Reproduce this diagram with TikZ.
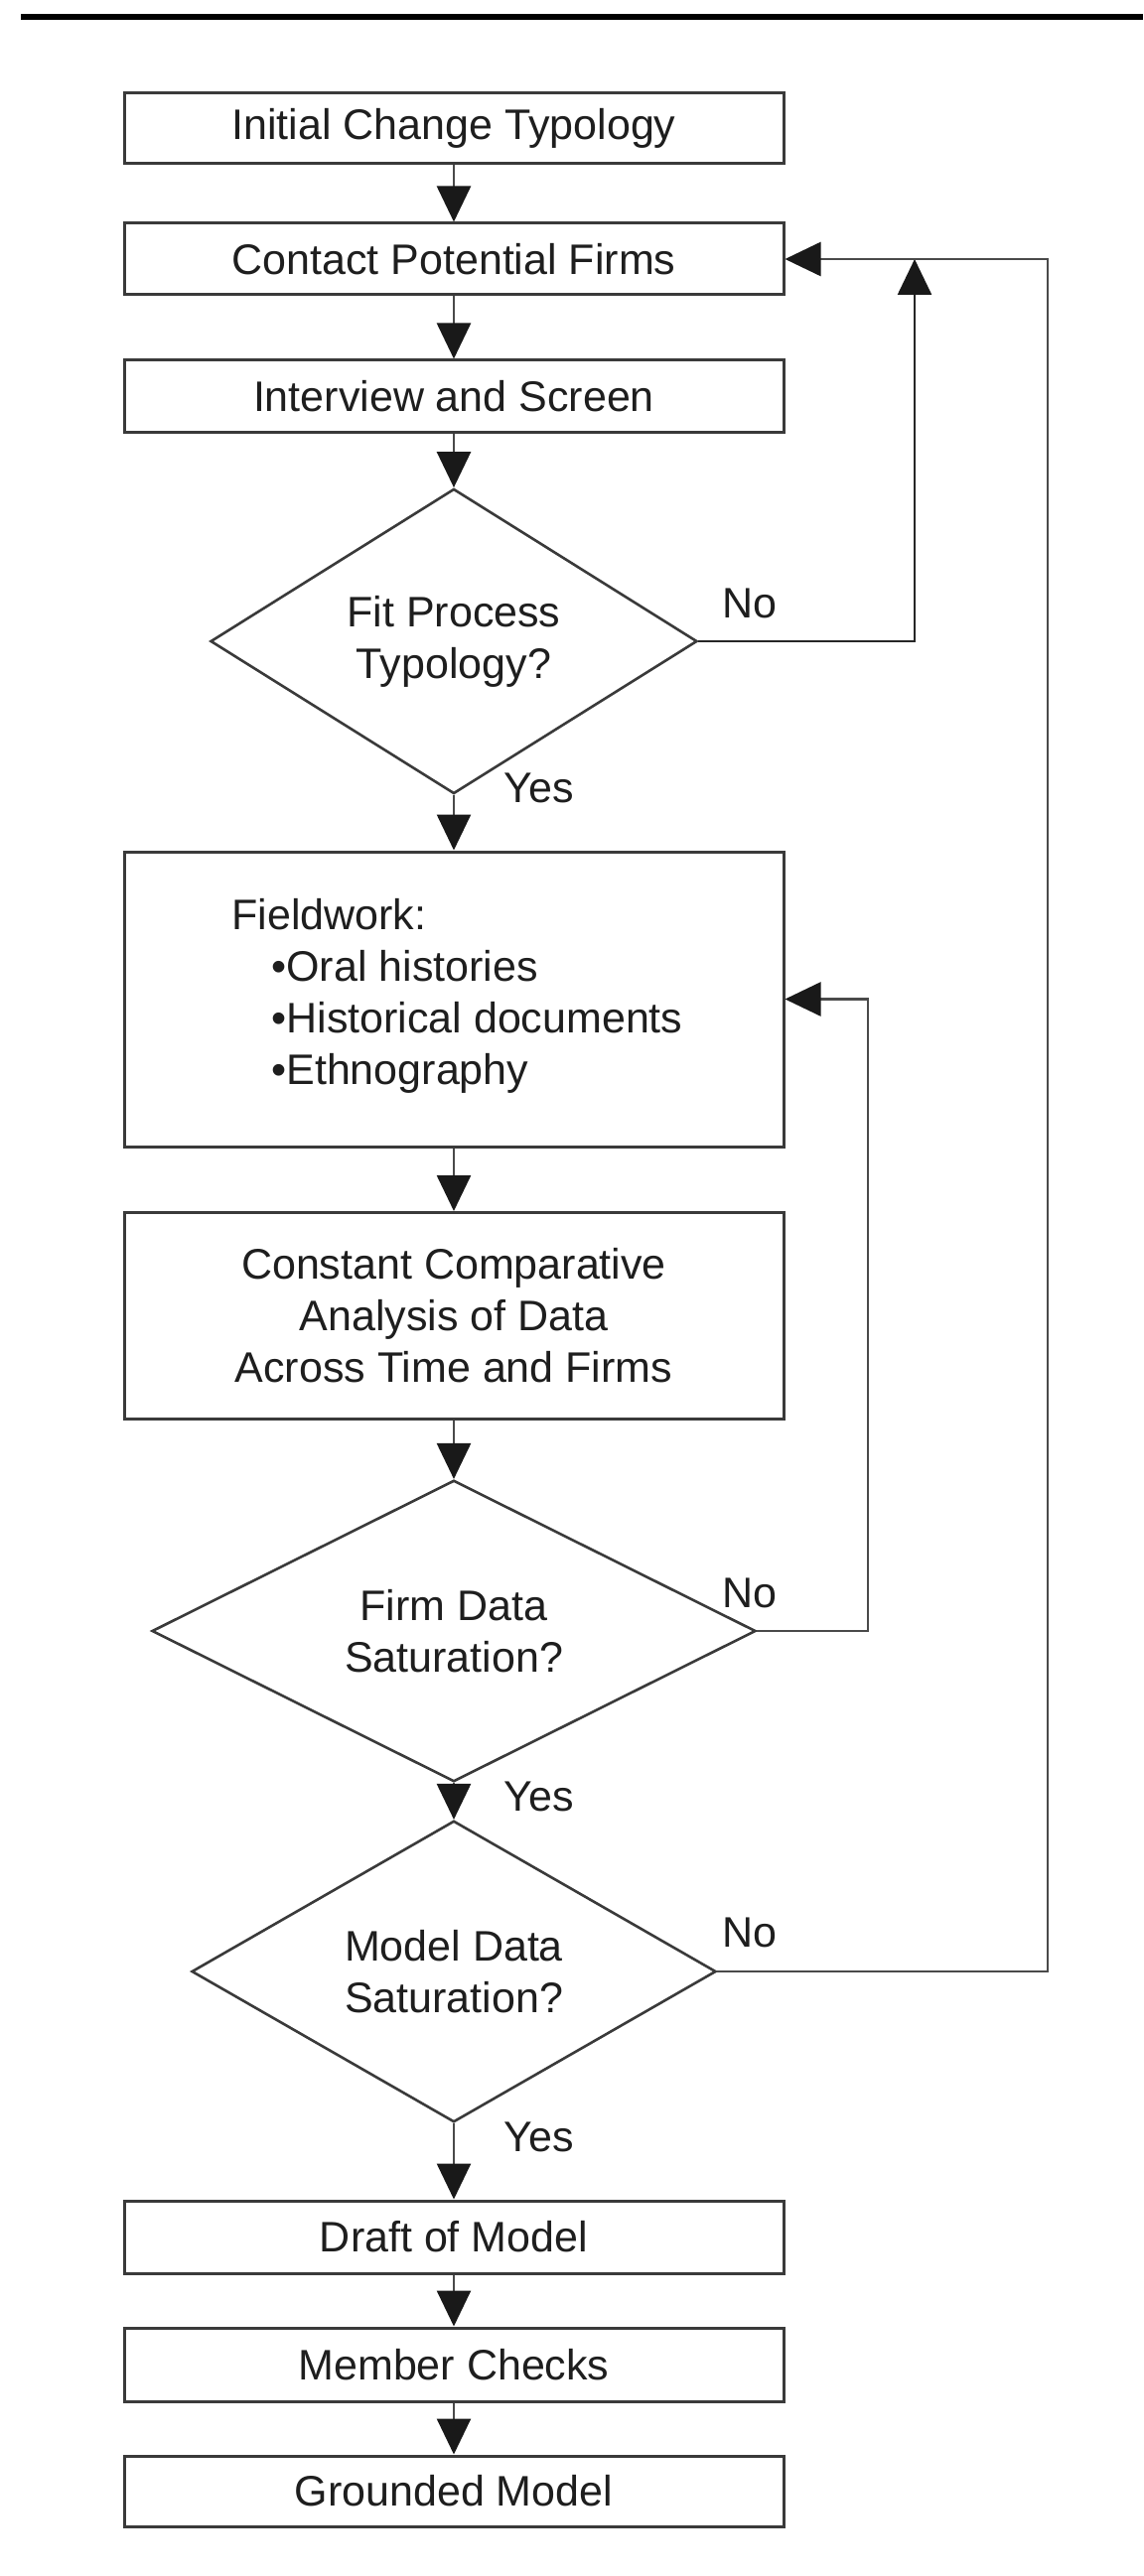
\documentclass[tikz,border=0pt]{standalone}
\usepackage{fontspec}
\setmainfont{Liberation Sans}
\usetikzlibrary{shapes.geometric,arrows.meta}
\definecolor{boxc}{HTML}{3A3A3A}
\definecolor{linec}{HTML}{4A4A4A}
\definecolor{txtc}{HTML}{1E1E1E}
\begin{document}
\begin{tikzpicture}[x=0.5pt,y=-0.5pt,
  font=\fontsize{21.5}{26}\selectfont,
  box/.style={draw=boxc, line width=1.5pt, minimum width=332pt, inner sep=0pt, align=center, text=txtc},
  dia/.style={draw=boxc, line width=1.3pt, shape=diamond, inner sep=0pt, align=center, text=txtc},
  arr/.style={draw=linec, line width=1.3pt, -{Triangle[length=18pt,width=17pt,color=black!90]}},
  lbl/.style={text=txtc, inner sep=0pt}
]
\useasboundingbox (0,0) rectangle (1151,2595);
\fill[white] (0,0) rectangle (1151,2595);
% top rule
\coordinate (rl) at (21,17);
\coordinate (rr) at (1151,17);
\draw[line width=3pt, black] (rl) -- (rr);

% boxes
\node[box, minimum height=35.5pt] (b1) at (457,129.5) {Initial Change Typology};
\node[box, minimum height=36pt] (b2) at (457,261) {Contact Potential Firms};
\node[box, minimum height=36pt] (b3) at (457,399) {Interview and Screen};
\node[dia, minimum width=245pt, minimum height=138pt] (d1) at (457,646) {Fit Process\\Typology?};
\node[box, minimum height=148.5pt] (fw) at (457,1006.5) {};
\node[lbl, anchor=west, align=left] (fwt) at (233,1003) {Fieldwork:\\\hspace*{20pt}•Oral histories\\\hspace*{20pt}•Historical documents\\\hspace*{20pt}•Ethnography};
\node[box, minimum height=104pt] (cca) at (457,1325.5) {Constant Comparative\\Analysis of Data\\Across Time and Firms};
\node[dia, minimum width=304pt, minimum height=137pt] (d2) at (457,1643) {Firm Data\\Saturation?};
\node[dia, minimum width=264pt, minimum height=137pt] (d3) at (457,1986) {Model Data\\Saturation?};
\node[box, minimum height=36.5pt] (b4) at (457,2253.5) {Draft of Model};
\node[box, minimum height=37pt] (b5) at (457,2382) {Member Checks};
\node[box, minimum height=35.5pt] (b6) at (457,2509.5) {Grounded Model};

% main flow
\draw[arr] (b1) -- (b2);
\draw[arr] (b2) -- (b3);
\draw[arr] (b3) -- (d1);
\draw[arr] (d1) -- (fw);
\draw[arr] (fw) -- (cca);
\draw[arr] (cca) -- (d2);
\draw[arr] (d2) -- (d3);
\draw[arr] (d3) -- (b4);
\draw[arr] (b4) -- (b5);
\draw[arr] (b5) -- (b6);

% labels
\node[lbl, anchor=west] (yes1) at (507,794) {Yes};
\node[lbl, anchor=west] (yes2) at (507,1810) {Yes};
\node[lbl, anchor=west] (yes3) at (507,2153) {Yes};
\node[lbl, anchor=west] (no1) at (727,608) {No};
\node[lbl, anchor=west] (no2) at (727,1605) {No};
\node[lbl, anchor=west] (no3) at (727,1947) {No};

% feedback loops
\coordinate (c1) at (921,261);
\coordinate (c2) at (874,1006.5);
\coordinate (c3) at (1055,261);
\draw[arr, draw=black!85] (d1.east) -| (c1);
\draw[arr] (d2.east) -| (c2) -- (fw.east);
\draw[arr] (d3.east) -| (c3) -- (b2.east);
\end{tikzpicture}
\end{document}
